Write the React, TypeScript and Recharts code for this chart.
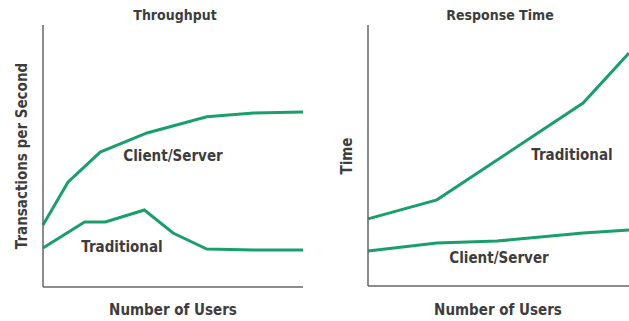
import { LineChart, Line, XAxis, YAxis } from "recharts"

// x = number of users (relative 0-100), y = relative value (0-100)
const throughputCSUsers = [0, 9.6, 22, 40, 63, 81, 100]
const throughputCSValues = [23.7, 40, 51.5, 58.8, 65, 66.4, 66.8]
const throughputTradUsers = [0, 16, 24, 39, 50, 63, 81, 100]
const throughputTradValues = [14.9, 24.8, 24.8, 29.4, 20.6, 14.5, 14.1, 14.1]

const responseTradUsers = [0, 26.4, 82.4, 100]
const responseTradValues = [25.7, 33, 70.1, 89.3]
const responseCSUsers = [0, 26.4, 49.4, 82.4, 100]
const responseCSValues = [13.4, 16.5, 17.2, 20.3, 21.5]

const GREEN = "#1a9f6c"
const TEXT = "#3d3d3d"
const AXIS = "#666"
const FONT = "'Liberation Sans Narrow', 'DejaVu Sans Condensed', 'Roboto Condensed', Arial, sans-serif"

const toPoints = (xs: number[], ys: number[]) => xs.map((x, i) => ({ x, y: ys[i] }))

const txt = { fill: TEXT, fontFamily: FONT, fontWeight: 700 } as const

export default function App() {
  return (
    <div style={{ position: "absolute", left: 0, top: 0, width: 629, height: 321, background: "#fff" }}>
      <div style={{ position: "absolute", left: 0, top: 0 }}>
        <LineChart width={320} height={321} margin={{ top: 25, right: 17, bottom: 33, left: 42 }}>
          <XAxis type="number" dataKey="x" domain={[0, 100]} tick={false} tickLine={false} height={1}
            axisLine={{ stroke: AXIS, strokeWidth: 1.5 }} />
          <YAxis type="number" dataKey="y" domain={[0, 100]} tick={false} tickLine={false} width={1}
            axisLine={{ stroke: AXIS, strokeWidth: 1.5 }} />
          <Line data={toPoints(throughputCSUsers, throughputCSValues)} dataKey="y" type="linear"
            stroke={GREEN} strokeWidth={3} dot={false} isAnimationActive={false} />
          <Line data={toPoints(throughputTradUsers, throughputTradValues)} dataKey="y" type="linear"
            stroke={GREEN} strokeWidth={3} dot={false} isAnimationActive={false} />
          <text x={175} y={20} textAnchor="middle" fontSize={14} {...txt}>Throughput</text>
          <text x={173} y={315} textAnchor="middle" fontSize={15} {...txt}>Number of Users</text>
          <text x={27} y={156} textAnchor="middle" fontSize={15} transform="rotate(-90 27 156)" {...txt}>
            Transactions per Second
          </text>
          <text x={173} y={161} textAnchor="middle" fontSize={15} {...txt}>Client/Server</text>
          <text x={122} y={252} textAnchor="middle" fontSize={15} {...txt}>Traditional</text>
        </LineChart>
      </div>
      <div style={{ position: "absolute", left: 310, top: 0 }}>
        <LineChart width={319} height={321} margin={{ top: 25, right: 0, bottom: 34, left: 57 }}>
          <XAxis type="number" dataKey="x" domain={[0, 100]} tick={false} tickLine={false} height={1}
            axisLine={{ stroke: AXIS, strokeWidth: 1.5 }} />
          <YAxis type="number" dataKey="y" domain={[0, 100]} tick={false} tickLine={false} width={1}
            axisLine={{ stroke: AXIS, strokeWidth: 1.5 }} />
          <Line data={toPoints(responseTradUsers, responseTradValues)} dataKey="y" type="linear"
            stroke={GREEN} strokeWidth={3} dot={false} isAnimationActive={false} />
          <Line data={toPoints(responseCSUsers, responseCSValues)} dataKey="y" type="linear"
            stroke={GREEN} strokeWidth={3} dot={false} isAnimationActive={false} />
          <text x={190} y={20} textAnchor="middle" fontSize={14} {...txt}>Response Time</text>
          <text x={188} y={315} textAnchor="middle" fontSize={15} {...txt}>Number of Users</text>
          <text x={42} y={156} textAnchor="middle" fontSize={15} transform="rotate(-90 42 156)" {...txt}>
            Time
          </text>
          <text x={262} y={160} textAnchor="middle" fontSize={15} {...txt}>Traditional</text>
          <text x={189} y={263} textAnchor="middle" fontSize={15} {...txt}>Client/Server</text>
        </LineChart>
      </div>
    </div>
  )
}
